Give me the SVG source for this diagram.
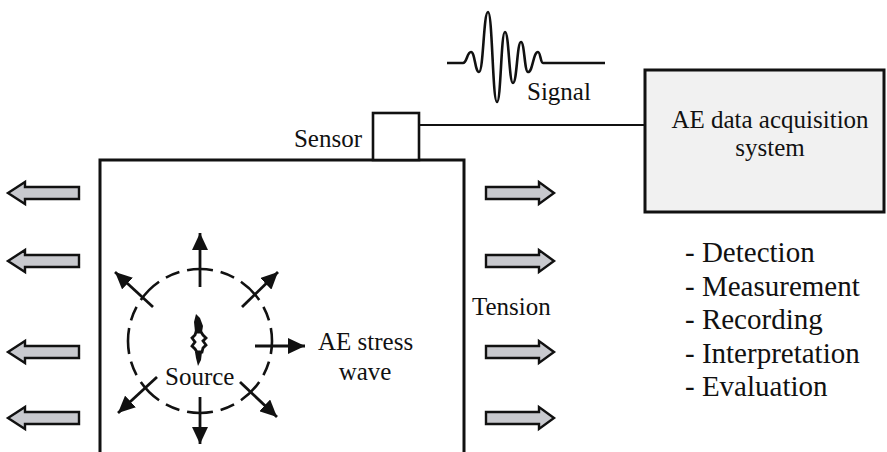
<svg xmlns="http://www.w3.org/2000/svg" width="887" height="452" viewBox="0 0 887 452">
<style>
  text { font-family: "Liberation Serif", "Times New Roman", "DejaVu Serif", serif; fill: #111; }
  .lbl { font-size: 25px; }
  .list { font-size: 29px; }
  .box { fill: none; stroke: #111; stroke-width: 3; }
  .tarrow { fill: #c8c9ce; stroke: #111; stroke-width: 2.4; stroke-linejoin: miter; }
  .wave-arrow { stroke: #111; stroke-width: 2.8; fill: none; marker-end: url(#ah); }
  .wire { stroke: #111; stroke-width: 2.2; fill: none; }
</style>
<defs>
  <marker id="ah" markerUnits="userSpaceOnUse" markerWidth="18" markerHeight="16" refX="17" refY="8" orient="auto">
    <path d="M0,0 L17,8 L0,16 Z" fill="#111"/>
  </marker>
  <path id="larrow" d="M0,0 L17,-11 L17,-6 L71,-6 L71,6 L17,6 L17,11 Z"/>
  <path id="rarrow" d="M0,0 L-15,-11 L-15,-6 L-68,-6 L-68,6 L-15,6 L-15,11 Z"/>
</defs>
<rect width="887" height="452" fill="#ffffff"/>

<g id="specimen">
  <path class="box" d="M100,452 V160 H464 V452"/>
</g>

<g id="sensor">
  <rect x="373" y="113" width="46" height="47" fill="#fff" stroke="#111" stroke-width="2.6"/>
  <text class="lbl" x="362" y="147" text-anchor="end">Sensor</text>
</g>

<g id="daq">
  <rect x="645" y="70" width="239" height="142" fill="#f1f1f1" stroke="#111" stroke-width="3"/>
  <text class="lbl" x="770" y="128" text-anchor="middle">AE data acquisition</text>
  <text class="lbl" x="770" y="156" text-anchor="middle">system</text>
</g>

<g id="signal">
  <path d="M447,63 H463 C467,63 467,52 471,52 C475,52 475,72 479,72 C483.5,72 483.5,12 488,12 C492.5,12 492.5,102 497,102 C501,102 501,32 505,32 C509,32 509,83 513,83 C517,83 517,42 521,42 C524.5,42 524.5,72 528,72 C533,72 533,52 538,52 C540.5,52 540.5,63 543,63 H605" fill="none" stroke="#111" stroke-width="2.6" stroke-linejoin="round"/>
  <text class="lbl" x="527" y="100">Signal</text>
</g>

<g id="tension-left">
  <use href="#larrow" class="tarrow" transform="translate(8,193)"/>
  <use href="#larrow" class="tarrow" transform="translate(8,261)"/>
  <use href="#larrow" class="tarrow" transform="translate(8,352)"/>
  <use href="#larrow" class="tarrow" transform="translate(8,418)"/>
</g>

<g id="tension-right">
  <use href="#rarrow" class="tarrow" transform="translate(554,193)"/>
  <use href="#rarrow" class="tarrow" transform="translate(554,261)"/>
  <use href="#rarrow" class="tarrow" transform="translate(554,352)"/>
  <use href="#rarrow" class="tarrow" transform="translate(554,418)"/>
  <text class="lbl" x="472" y="315">Tension</text>
</g>

<g id="source">
  <circle cx="200" cy="341" r="72" fill="none" stroke="#111" stroke-width="2.6" pathLength="452.4" stroke-dasharray="26 8 14.55 8" stroke-dashoffset="13"/>
  <path d="M196,314 L200,318 L203,326 L202,332 L195,332 L194,322 Z" fill="#111"/>
  <path d="M196,332 L201,332 L203,335 L206,338 L203,341 L206,345 L203,348 L202,352 L197,352 L195,349 L192,346 L195,342 L192,338 L195,335 Z" fill="#fff" stroke="#111" stroke-width="2.8" stroke-linejoin="miter"/>
  <path d="M195,352 L202,352 L201,360 L198,366 L196,358 Z" fill="#111"/>
  <text class="lbl" x="165" y="385">Source</text>
  <text class="lbl" x="318" y="350">AE stress</text>
  <text class="lbl" x="365" y="380" text-anchor="middle">wave</text>
</g>

<g id="connectors">
  <line class="wire" x1="419" y1="125" x2="645" y2="125"/>
  <line class="wave-arrow" x1="200" y1="287" x2="200" y2="233"/>
  <line class="wave-arrow" x1="200" y1="397" x2="200" y2="444"/>
  <line class="wave-arrow" x1="255" y1="346" x2="305" y2="346"/>
  <line class="wave-arrow" x1="242" y1="307" x2="278" y2="272"/>
  <line class="wave-arrow" x1="153" y1="307" x2="115" y2="272"/>
  <line class="wave-arrow" x1="157" y1="377" x2="118" y2="413"/>
  <line class="wave-arrow" x1="240" y1="382" x2="277" y2="417"/>
</g>

<g id="functions">
  <text class="list" x="685" y="262">- Detection</text>
  <text class="list" x="685" y="295.5">- Measurement</text>
  <text class="list" x="685" y="329">- Recording</text>
  <text class="list" x="685" y="362.5">- Interpretation</text>
  <text class="list" x="685" y="396">- Evaluation</text>
</g>
</svg>
